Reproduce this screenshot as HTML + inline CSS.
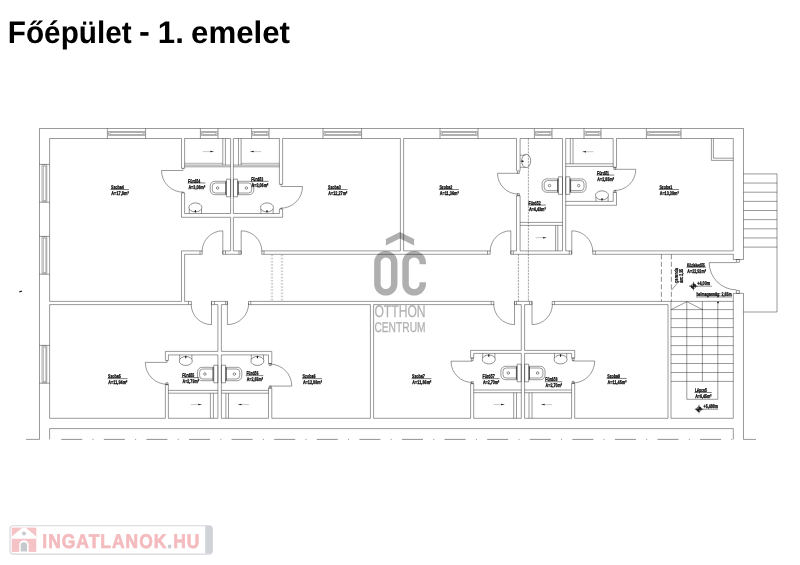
<!DOCTYPE html>
<html lang="hu">
<head>
<meta charset="utf-8">
<title>Főépület - 1. emelet</title>
<style>
html,body{margin:0;padding:0;background:#fff;}
body{width:800px;height:565px;overflow:hidden;}
svg{display:block;will-change:transform;opacity:.999;}
text{text-rendering:geometricPrecision;}
</style>
</head>
<body>
<svg width="800" height="565" viewBox="0 0 800 565">
<rect width="800" height="565" fill="#fff"/>
<g font-family="'Liberation Sans',sans-serif" font-weight="bold" font-size="31.2" fill="#000">
<text x="7.8" y="42.5" textLength="123.9" lengthAdjust="spacingAndGlyphs">Főépület</text>
<text x="138.9" y="41.6" textLength="10.8" lengthAdjust="spacingAndGlyphs">-</text>
<text x="157.8" y="42.5" textLength="26" lengthAdjust="spacingAndGlyphs">1.</text>
<text x="191" y="42.5" textLength="99" lengthAdjust="spacingAndGlyphs">emelet</text>
</g>
<path d="M39.5 128.5L743.5 128.5M39.5 128.5L39.5 439.4M26 439.4L39.5 439.4M743.5 128.5L743.5 259.5M733.3 259.5L743.5 259.5M743.5 293.4L743.5 439.4M733.3 293.4L743.5 293.4M743.5 439.4L756 439.4M736.4 259.5L739.4 259.5L739.4 262.3L736.4 262.3ZM736.4 290.5L739.4 290.5L739.4 293.4L736.4 293.4ZM49.6 138.5L181.5 138.5M184.6 138.5L230.6 138.5M233.4 138.5L279.4 138.5M282.6 138.5L400.4 138.5M403.6 138.5L516.5 138.5M520.1 138.5L562.5 138.5M565.7 138.5L613.2 138.5M616.5 138.5L733.3 138.5M49.6 138.5L49.6 301.4M49.6 304.6L49.6 418.3M733.3 138.5L733.3 250.9M733.3 254L733.3 259.5M733.3 293.4L733.3 418.3M49.6 418.3L165.4 418.3M168.4 418.3L217.9 418.3M221.4 418.3L268.5 418.3M271.8 418.3L370.4 418.3M373.6 418.3L470.6 418.3M473.7 418.3L521.3 418.3M524.6 418.3L571.6 418.3M574.7 418.3L668 418.3M671 418.3L733.3 418.3M49.6 439.4L49.6 428.6L733.3 428.6L733.3 439.4M107.4 128.5L107.4 138.5M145.6 128.5L145.6 138.5M200.4 128.5L200.4 138.5M218 128.5L218 138.5M251.6 128.5L251.6 138.5M269 128.5L269 138.5M323 128.5L323 138.5M361.6 128.5L361.6 138.5M440 128.5L440 138.5M478 128.5L478 138.5M534.4 128.5L534.4 138.5M552 128.5L552 138.5M584 128.5L584 138.5M601 128.5L601 138.5M646.4 128.5L646.4 138.5M681 128.5L681 138.5M39.5 164.4L49.6 164.4M39.5 202.2L49.6 202.2M39.5 236.4L49.6 236.4M39.5 274.2L49.6 274.2M39.5 345.4L49.6 345.4M39.5 383.2L49.6 383.2M181.5 138.5L181.5 168.3M184.6 138.5L184.6 168.3M181.5 168.3L184.6 168.3M182.2 168.9L184.2 168.9M181.5 192.9L181.5 217.3M184.6 192.9L184.6 213.5M181.5 192.9L184.6 192.9M182.2 192.3L184.2 192.3M184.6 213.5L230.6 213.5M233.4 213.5L279.4 213.5M181.5 217.3L230.6 217.3M233.4 217.3L282.6 217.3M230.6 138.5L230.6 213.5M233.4 138.5L233.4 213.5M230.6 217.3L230.6 250.9M233.4 217.3L233.4 250.9M279.4 138.5L279.4 184.3M282.6 138.5L282.6 184.3M279.4 184.3L282.6 184.3M279.9 184.9L282.2 184.9M279.4 209L279.4 213.5M282.6 209L282.6 217.3M279.4 209L282.6 209M279.9 208.4L282.2 208.4M184.6 165.1L230.6 165.1M184.6 166.8L230.6 166.8M222.8 138.5L222.8 165.1M225.4 138.5L225.4 165.1M233.4 165.1L279.4 165.1M233.4 166.8L279.4 166.8M238.5 138.5L238.5 165.1M241.1 138.5L241.1 165.1M230.6 179.2L226.5 179.2L226.5 196.8L230.6 196.8ZM226.5 181.3L214.8 181.3A4.6 4.6 0 0 0 210.2 185.9L210.2 190.1A4.6 4.6 0 0 0 214.8 194.7L226.5 194.7M226.5 183L215.5 183A3.2 3.2 0 0 0 212.3 186.2L212.3 189.8A3.2 3.2 0 0 0 215.5 193L226.5 193M233.4 179.2L237.5 179.2L237.5 196.8L233.4 196.8ZM237.5 181.3L249.2 181.3A4.6 4.6 0 0 1 253.8 185.9L253.8 190.1A4.6 4.6 0 0 1 249.2 194.7L237.5 194.7M237.5 183L248.5 183A3.2 3.2 0 0 1 251.7 186.2L251.7 189.8A3.2 3.2 0 0 1 248.5 193L237.5 193M189.3 209.05L189.3 213.5M201.5 209.05L201.5 213.5M260.9 209.05L260.9 213.5M273.1 209.05L273.1 213.5M181.5 250.9L200 250.9M184.6 254.3L200 254.3M200 250.9L202.2 250.9L202.2 254.3L200 254.3ZM181.5 250.9L181.5 301.4M184.6 254.3L184.6 301.4M222.8 250.9L225.5 250.9L225.5 254.3L222.8 254.3ZM225.5 250.9L230.3 250.9M233.5 250.9L239 250.9M225.5 254.3L239 254.3M239 250.9L241.2 250.9L241.2 254.3L239 254.3ZM261.8 250.9L264 250.9L264 254.3L261.8 254.3ZM264 250.9L400.4 250.9M403.6 250.9L487.5 250.9M264 254.3L487.5 254.3M400.4 138.5L400.4 250.9M403.6 138.5L403.6 250.9M487.5 250.9L490.2 250.9L490.2 254.3L487.5 254.3ZM510.8 250.9L513.3 250.9L513.3 254.3L510.8 254.3ZM513.3 250.9L516.5 250.9M520.1 250.9L562.5 250.9M565.7 250.9L569.3 250.9M513.3 254.3L569.3 254.3M569.3 250.9L571.6 250.9L571.6 254.3L569.3 254.3ZM592.8 250.9L595.4 250.9L595.4 254.3L592.8 254.3ZM595.4 250.9L733.3 250.9M595.4 254.3L733.3 254.3M516.5 138.5L516.5 170.8M520.1 138.5L520.1 170.8M517.4 170.8L519.4 170.8L519.4 173.3L517.4 173.3ZM516.5 195.7L516.5 250.9M520.1 195.7L520.1 250.9M516.5 195.7L520.1 195.7M517.4 193.6L519.4 193.6L519.4 195.7L517.4 195.7ZM562.5 138.5L562.5 250.9M565.7 138.5L565.7 250.9M613.2 138.5L613.2 167.3M616.5 138.5L616.5 167.3M613.2 167.3L616.5 167.3M613.9 167.3L615.8 167.3L615.8 169.3L613.9 169.3ZM613.2 192.3L613.2 201.4M616.5 192.3L616.5 205.3M613.2 192.3L616.5 192.3M613.9 190.4L615.8 190.4L615.8 192.3L613.9 192.3ZM565.7 201.4L613.2 201.4M565.7 205.3L616.5 205.3M565.7 163.8L613.2 163.8M565.7 166.4L613.2 166.4M570.3 138.5L570.3 163.8M573 138.5L573 163.8M520.1 222.4L562.5 222.4M520.1 225.4L562.5 225.4M555.6 225.4L555.6 250.9M557.8 225.4L557.8 250.9M562.5 176.8L558.4 176.8L558.4 194.4L562.5 194.4ZM558.4 178.9L546.7 178.9A4.6 4.6 0 0 0 542.1 183.5L542.1 187.7A4.6 4.6 0 0 0 546.7 192.3L558.4 192.3M558.4 180.6L547.4 180.6A3.2 3.2 0 0 0 544.2 183.8L544.2 187.4A3.2 3.2 0 0 0 547.4 190.6L558.4 190.6M565.7 176.8L569.8 176.8L569.8 194.4L565.7 194.4ZM569.8 178.9L581.5 178.9A4.6 4.6 0 0 1 586.1 183.5L586.1 187.7A4.6 4.6 0 0 1 581.5 192.3L569.8 192.3M569.8 180.6L580.8 180.6A3.2 3.2 0 0 1 584 183.8L584 187.4A3.2 3.2 0 0 1 580.8 190.6L569.8 190.6M595.9 196.95L595.9 201.4M608.1 196.95L608.1 201.4M525.4 155.2L520.1 155.2M525.4 167.3L520.1 167.3M520.4 161.2L523.6 161.2M711.4 138.5L711.4 160.4L733.3 160.4M713.4 138.5L713.4 158.2L733.3 158.2M49.6 301.4L181.5 301.4M184.6 301.4L188.5 301.4M49.6 304.6L188.5 304.6M188.5 301.4L191.4 301.4L191.4 304.6L188.5 304.6ZM211.5 301.4L214.5 301.4L214.5 304.6L211.5 304.6ZM214.5 301.4L225.5 301.4M214.5 304.6L217.9 304.6M221.4 304.6L225.5 304.6M217.9 304.6L217.9 351.4M221.4 304.6L221.4 351.4M217.9 354.9L217.9 418.3M221.4 354.9L221.4 418.3M225.5 301.4L227.4 301.4L227.4 304.6L225.5 304.6ZM248.5 301.4L250.8 301.4L250.8 304.6L248.5 304.6ZM250.8 301.4L491.2 301.4M250.8 304.6L370.4 304.6M373.6 304.6L491.2 304.6M370.4 304.6L370.4 418.3M373.6 304.6L373.6 418.3M491.2 301.4L493.8 301.4L493.8 304.6L491.2 304.6ZM514.5 301.4L516.5 301.4L516.5 304.6L514.5 304.6ZM516.5 301.4L529.5 301.4M516.5 304.6L521.3 304.6M524.6 304.6L529.5 304.6M521.3 304.6L521.3 350.4M524.6 304.6L524.6 350.4M521.3 353.4L521.3 418.3M524.6 353.4L524.6 418.3M529.5 301.4L532 301.4L532 304.6L529.5 304.6ZM552.2 301.4L554.5 301.4L554.5 304.6L552.2 304.6ZM554.5 301.4L671 301.4L671 418.3M554.5 304.6L668 304.6L668 418.3M165.4 351.4L217.9 351.4M221.4 351.4L271.8 351.4M168.4 354.9L217.9 354.9M221.4 354.9L268.5 354.9M165.4 351.4L165.4 360.4M168.4 354.9L168.4 360.4M165.4 360.5L168.4 360.5M166 361.1L168 361.1M165.4 384.4L165.4 418.3M168.4 384.4L168.4 418.3M165.4 384.6L168.4 384.6M166 382.8L168 382.8L168 384.6L166 384.6ZM271.8 351.4L271.8 363.5M268.5 354.9L268.5 363.5M268.5 363.5L271.8 363.5M269.1 363.5L271.2 363.5L271.2 365.6L269.1 365.6ZM271.8 388.1L271.8 418.3M268.5 388.1L268.5 418.3M268.5 388.1L271.8 388.1M269.1 386.1L271.2 386.1L271.2 388.1L269.1 388.1ZM168.4 390.4L217.9 390.4M168.4 393.2L217.9 393.2M210.4 393.2L210.4 418.3M213.4 393.2L213.4 418.3M221.4 390.4L268.5 390.4M221.4 393.2L268.5 393.2M225.9 393.2L225.9 418.3M228.5 393.2L228.5 418.3M217.9 365.2L213.8 365.2L213.8 382.8L217.9 382.8ZM213.8 367.3L202.1 367.3A4.6 4.6 0 0 0 197.5 371.9L197.5 376.1A4.6 4.6 0 0 0 202.1 380.7L213.8 380.7M213.8 369L202.8 369A3.2 3.2 0 0 0 199.6 372.2L199.6 375.8A3.2 3.2 0 0 0 202.8 379L213.8 379M221.4 365.2L225.5 365.2L225.5 382.8L221.4 382.8ZM225.5 367.3L237.2 367.3A4.6 4.6 0 0 1 241.8 371.9L241.8 376.1A4.6 4.6 0 0 1 237.2 380.7L225.5 380.7M225.5 369L236.5 369A3.2 3.2 0 0 1 239.7 372.2L239.7 375.8A3.2 3.2 0 0 1 236.5 379L225.5 379M179.7 359.35L179.7 354.9M191.9 359.35L191.9 354.9M251.3 359.35L251.3 354.9M263.5 359.35L263.5 354.9M470.6 350.4L521.3 350.4M524.6 350.4L574.7 350.4M473.7 353.4L521.3 353.4M524.6 353.4L571.6 353.4M470.6 350.4L470.6 358.1M473.7 353.4L473.7 358.1M470.6 358.1L473.7 358.1M471.3 358.1L473.2 358.1L473.2 360.5L471.3 360.5ZM470.6 383.6L470.6 418.3M473.7 383.6L473.7 418.3M470.6 383.6L473.7 383.6M471.3 381.6L473.2 381.6L473.2 383.6L471.3 383.6ZM574.7 350.4L574.7 358.1M571.6 353.4L571.6 358.1M571.6 358.1L574.7 358.1M572.2 358.1L574.1 358.1L574.1 360.5L572.2 360.5ZM574.7 383.3L574.7 418.3M571.6 383.3L571.6 418.3M571.6 383.3L574.7 383.3M572.2 381.3L574.1 381.3L574.1 383.3L572.2 383.3ZM473.7 390L521.3 390M473.7 392.7L521.3 392.7M513.7 392.7L513.7 418.3M516.5 392.7L516.5 418.3M524.6 390L571.6 390M524.6 392.7L571.6 392.7M529 392.7L529 418.3M532 392.7L532 418.3M521.3 364.2L517.2 364.2L517.2 381.8L521.3 381.8ZM517.2 366.3L505.5 366.3A4.6 4.6 0 0 0 500.9 370.9L500.9 375.1A4.6 4.6 0 0 0 505.5 379.7L517.2 379.7M517.2 368L506.2 368A3.2 3.2 0 0 0 503 371.2L503 374.8A3.2 3.2 0 0 0 506.2 378L517.2 378M524.6 364.2L528.7 364.2L528.7 381.8L524.6 381.8ZM528.7 366.3L540.4 366.3A4.6 4.6 0 0 1 545 370.9L545 375.1A4.6 4.6 0 0 1 540.4 379.7L528.7 379.7M528.7 368L539.7 368A3.2 3.2 0 0 1 542.9 371.2L542.9 374.8A3.2 3.2 0 0 1 539.7 378L528.7 378M482.7 357.85L482.7 353.4M494.9 357.85L494.9 353.4M554.5 357.85L554.5 353.4M566.7 357.85L566.7 353.4M671 309.6L733.3 309.6M671 318.6L733.3 318.6M671 327.6L733.3 327.6M671 336.6L733.3 336.6M671 345.6L733.3 345.6M671 354.6L733.3 354.6M671 363.5L733.3 363.5M671 372.5L733.3 372.5M671 381.4L733.3 381.4M686.8 301.4L686.8 399.3M717.8 301.4L717.8 399.3M702.4 301.4L702.4 381.4M686.8 399.3L717.8 399.3M671 301.4L733.3 301.4M671 309.6L687 301.7L702.6 309.6M743.5 173.9L777 173.9M743.5 183.05L777 183.05M743.5 192.2L777 192.2M743.5 201.35L777 201.35M743.5 210.5L777 210.5M743.5 219.65L777 219.65M743.5 228.8L777 228.8M743.5 237.95L777 237.95M743.5 247.1L777 247.1M777 173.9L777 312M743.5 312L777 312M671.5 290.2L677.4 283" fill="none" stroke="#222" stroke-width=".46"/>
<path d="M161.5 170.5A21.7 21.7 0 0 0 183.2 192.2M183.2 170.5L161.5 170.5M302.5 186.5A21.7 21.7 0 0 1 280.8 208.2M280.8 186.5L302.5 186.5M222.8 254.3L222.8 230.8M202.1 251.5A20.7 20.7 0 0 1 222.8 230.8M241.2 254.3L241.2 230.8M241.2 230.8A20.7 20.7 0 0 1 261.9 251.5M510.8 254.3L510.8 230.8M490.2 251.4A20.6 20.6 0 0 1 510.8 230.8M571.8 254.3L571.8 230.8M571.8 230.8A21 21 0 0 1 592.8 251.8M497.5 173.3A20.8 20.8 0 0 0 518.3 194.1M518.3 173.3L497.5 173.3M635.8 169.3A21.2 21.2 0 0 1 614.6 190.5M614.6 169.3L635.8 169.3M211.5 301.4L211.5 324.6M191.2 304.3A20.3 20.3 0 0 0 211.5 324.6M227.4 301.4L227.4 324.6M248.7 303.3A21.3 21.3 0 0 1 227.4 324.6M514.5 301.4L514.5 324.6M493.7 303.8A20.8 20.8 0 0 0 514.5 324.6M532 301.4L532 324.6M552.4 304.2A20.4 20.4 0 0 1 532 324.6M145.3 362.4A21.9 21.9 0 0 0 167.2 384.3M167.2 362.4L145.3 362.4M291.8 386.1A22 22 0 0 0 269.8 364.1M269.8 386.1L291.8 386.1M451 361.2A21.3 21.3 0 0 0 472.3 382.5M472.3 361.2L451 361.2M594.7 361A22 22 0 0 1 572.7 383M572.7 361L594.7 361M709.2 262.6A27.2 27.2 0 0 0 736.4 289.8M736.4 262.6L709.2 262.6" fill="none" stroke="#222" stroke-width=".46"/>
<path d="M108.4 131.5L144.8 131.5L144.8 135.4L108.4 135.4ZM109.8 132.5L143.4 132.5L143.4 134.6L109.8 134.6ZM201.4 131.5L217.2 131.5L217.2 135.4L201.4 135.4ZM202.8 132.5L215.8 132.5L215.8 134.6L202.8 134.6ZM252.6 131.5L268.2 131.5L268.2 135.4L252.6 135.4ZM254 132.5L266.8 132.5L266.8 134.6L254 134.6ZM324 131.5L360.8 131.5L360.8 135.4L324 135.4ZM325.4 132.5L359.4 132.5L359.4 134.6L325.4 134.6ZM441 131.5L477.2 131.5L477.2 135.4L441 135.4ZM442.4 132.5L475.8 132.5L475.8 134.6L442.4 134.6ZM535.4 131.5L551.2 131.5L551.2 135.4L535.4 135.4ZM536.8 132.5L549.8 132.5L549.8 134.6L536.8 134.6ZM585 131.5L600.2 131.5L600.2 135.4L585 135.4ZM586.4 132.5L598.8 132.5L598.8 134.6L586.4 134.6ZM647.4 131.5L680.2 131.5L680.2 135.4L647.4 135.4ZM648.8 132.5L678.8 132.5L678.8 134.6L648.8 134.6ZM42 164.8L46.8 164.8L46.8 201.8L42 201.8ZM43.3 166.1L45.9 166.1L45.9 200.5L43.3 200.5ZM42 236.8L46.8 236.8L46.8 273.8L42 273.8ZM43.3 238.1L45.9 238.1L45.9 272.5L43.3 272.5ZM42 345.8L46.8 345.8L46.8 382.8L42 382.8ZM43.3 347.1L45.9 347.1L45.9 381.5L43.3 381.5ZM184.6 163.3L222.8 163.3M241.1 163.3L279.4 163.3" fill="none" stroke="#333" stroke-width=".4"/>
<path d="M202.9 151.6L213.7 151.6M250.3 151.6L261.1 151.6M582.6 151.7L593.4 151.7M535.6 237.7L546.4 237.7M190.9 404.6L201.7 404.6M238.1 404.6L248.9 404.6M493.6 404.6L504.4 404.6M541.3 404.6L552.1 404.6" fill="none" stroke="#777" stroke-width=".4"/>
<path d="M528.4 138.5L528.4 301.4M518.4 254.3L518.4 301.4" fill="none" stroke="#333" stroke-width=".45" stroke-dasharray="2.2 1"/>
<path d="M271.3 254.7L271.3 301.4M272.6 254.7L272.6 301.4M281.3 254.7L281.3 301.4M282.6 254.7L282.6 301.4" fill="none" stroke="#888" stroke-width=".45" stroke-dasharray="1.6 1.55"/>
<path d="M661.4 254.3L661.4 301.4M671.4 254.3L671.4 301.4" fill="none" stroke="#222" stroke-width=".5" stroke-dasharray="5 2.5"/>
<path d="M61.25 439.4L721.2 439.4" fill="none" stroke="#222" stroke-width=".5" stroke-dasharray="21 10.3 1 10.29"/>
<path d="M731.3 439.4h1" fill="none" stroke="#222" stroke-width=".5"/>
<path d="M213.9 151.6l-3.6 -0.75v1.5z" fill="#222"/>
<path d="M250.1 151.6l3.6 -0.75v1.5z" fill="#222"/>
<rect x="225.2" y="181.3" width="1.3" height="13.4" fill="#555"/>
<circle cx="217.6" cy="188" r="1.25" fill="none" stroke="#222" stroke-width=".5"/>
<rect x="237.5" y="181.3" width="1.3" height="13.4" fill="#555"/>
<circle cx="246.4" cy="188" r="1.25" fill="none" stroke="#222" stroke-width=".5"/>
<ellipse cx="195.4" cy="207.45" rx="6.5" ry="4.5" fill="none" stroke="#222" stroke-width=".5"/>
<ellipse cx="195.4" cy="211.3" rx=".65" ry="1.3" fill="#111"/>
<ellipse cx="267" cy="207.45" rx="6.5" ry="4.5" fill="none" stroke="#222" stroke-width=".5"/>
<ellipse cx="267" cy="211.3" rx=".65" ry="1.3" fill="#111"/>
<path d="M582.4 151.7l3.6 -0.75v1.5z" fill="#222"/>
<path d="M546.6 237.7l-3.6 -0.75v1.5z" fill="#222"/>
<rect x="557.1" y="178.9" width="1.3" height="13.4" fill="#555"/>
<circle cx="549.5" cy="185.6" r="1.25" fill="none" stroke="#222" stroke-width=".5"/>
<rect x="569.8" y="178.9" width="1.3" height="13.4" fill="#555"/>
<circle cx="578.7" cy="185.6" r="1.25" fill="none" stroke="#222" stroke-width=".5"/>
<ellipse cx="602" cy="195.35" rx="6.5" ry="4.5" fill="none" stroke="#222" stroke-width=".5"/>
<ellipse cx="602" cy="199.2" rx=".65" ry="1.3" fill="#111"/>
<ellipse cx="526.2" cy="160.9" rx="4.5" ry="6.7" fill="none" stroke="#222" stroke-width=".5"/>
<path d="M524.2 161.2l-2.4 -1v2z" fill="#111"/>
<path d="M201.9 404.6l-3.6 -0.75v1.5z" fill="#222"/>
<path d="M237.9 404.6l3.6 -0.75v1.5z" fill="#222"/>
<rect x="212.5" y="367.3" width="1.3" height="13.4" fill="#555"/>
<circle cx="204.9" cy="374" r="1.25" fill="none" stroke="#222" stroke-width=".5"/>
<rect x="225.5" y="367.3" width="1.3" height="13.4" fill="#555"/>
<circle cx="234.4" cy="374" r="1.25" fill="none" stroke="#222" stroke-width=".5"/>
<ellipse cx="185.8" cy="360.95" rx="6.5" ry="4.5" fill="none" stroke="#222" stroke-width=".5"/>
<ellipse cx="185.8" cy="357.1" rx=".65" ry="1.3" fill="#111"/>
<ellipse cx="257.4" cy="360.95" rx="6.5" ry="4.5" fill="none" stroke="#222" stroke-width=".5"/>
<ellipse cx="257.4" cy="357.1" rx=".65" ry="1.3" fill="#111"/>
<path d="M504.6 404.6l-3.6 -0.75v1.5z" fill="#222"/>
<path d="M541.1 404.6l3.6 -0.75v1.5z" fill="#222"/>
<rect x="515.9" y="366.3" width="1.3" height="13.4" fill="#555"/>
<circle cx="508.3" cy="373" r="1.25" fill="none" stroke="#222" stroke-width=".5"/>
<rect x="528.7" y="366.3" width="1.3" height="13.4" fill="#555"/>
<circle cx="537.6" cy="373" r="1.25" fill="none" stroke="#222" stroke-width=".5"/>
<ellipse cx="488.8" cy="359.45" rx="6.5" ry="4.5" fill="none" stroke="#222" stroke-width=".5"/>
<ellipse cx="488.8" cy="355.6" rx=".65" ry="1.3" fill="#111"/>
<ellipse cx="560.6" cy="359.45" rx="6.5" ry="4.5" fill="none" stroke="#222" stroke-width=".5"/>
<ellipse cx="560.6" cy="355.6" rx=".65" ry="1.3" fill="#111"/>
<circle cx="718" cy="302.4" r=".9" fill="#222"/>
<g font-family="'Liberation Sans',sans-serif" font-size="5.4" font-weight="bold" fill="#000" stroke="#000" stroke-width=".28">
<text x="111" y="189.2" textLength="12.9" lengthAdjust="spacingAndGlyphs">Szoba4</text>
<text x="111.3" y="195.1" textLength="17.4" lengthAdjust="spacingAndGlyphs">A=17,8m²</text>
<path d="M110.5 189.55h18.4" stroke="#111" stroke-width=".55"/>
<text x="328" y="189.2" textLength="12.9" lengthAdjust="spacingAndGlyphs">Szoba3</text>
<text x="328.3" y="195.1" textLength="19" lengthAdjust="spacingAndGlyphs">A=12,27m²</text>
<path d="M327.5 189.55h20" stroke="#111" stroke-width=".55"/>
<text x="439.4" y="189.2" textLength="12.9" lengthAdjust="spacingAndGlyphs">Szoba2</text>
<text x="439.7" y="195.1" textLength="19" lengthAdjust="spacingAndGlyphs">A=11,36m²</text>
<path d="M438.9 189.55h20" stroke="#111" stroke-width=".55"/>
<text x="659.4" y="189.2" textLength="12.9" lengthAdjust="spacingAndGlyphs">Szoba1</text>
<text x="659.7" y="195.1" textLength="19" lengthAdjust="spacingAndGlyphs">A=13,39m²</text>
<path d="M658.9 189.55h20" stroke="#111" stroke-width=".55"/>
<text x="108" y="378.3" textLength="12.9" lengthAdjust="spacingAndGlyphs">Szoba5</text>
<text x="108.3" y="384.2" textLength="19" lengthAdjust="spacingAndGlyphs">A=11,94m²</text>
<path d="M107.5 378.65h20" stroke="#111" stroke-width=".55"/>
<text x="302.6" y="378.3" textLength="12.9" lengthAdjust="spacingAndGlyphs">Szoba6</text>
<text x="302.9" y="384.2" textLength="19" lengthAdjust="spacingAndGlyphs">A=12,08m²</text>
<path d="M302.1 378.65h20" stroke="#111" stroke-width=".55"/>
<text x="412" y="378.3" textLength="12.9" lengthAdjust="spacingAndGlyphs">Szoba7</text>
<text x="412.3" y="384.2" textLength="19" lengthAdjust="spacingAndGlyphs">A=11,86m²</text>
<path d="M411.5 378.65h20" stroke="#111" stroke-width=".55"/>
<text x="607.2" y="378.1" textLength="12.9" lengthAdjust="spacingAndGlyphs">Szoba8</text>
<text x="607.5" y="384" textLength="19" lengthAdjust="spacingAndGlyphs">A=11,45m²</text>
<path d="M606.7 378.45h20" stroke="#111" stroke-width=".55"/>
<text x="188.1" y="182.6" textLength="12.1" lengthAdjust="spacingAndGlyphs">Fürdő4</text>
<text x="188.4" y="188.5" textLength="16.8" lengthAdjust="spacingAndGlyphs">A=3,06m²</text>
<path d="M187.6 182.95h17.8" stroke="#111" stroke-width=".55"/>
<text x="251.2" y="181" textLength="12.1" lengthAdjust="spacingAndGlyphs">Fürdő3</text>
<text x="251.5" y="186.9" textLength="16.8" lengthAdjust="spacingAndGlyphs">A=3,06m²</text>
<path d="M250.7 181.35h17.8" stroke="#111" stroke-width=".55"/>
<text x="528.6" y="204.7" textLength="12.1" lengthAdjust="spacingAndGlyphs">Fürdő2</text>
<text x="528.9" y="210.6" textLength="16.8" lengthAdjust="spacingAndGlyphs">A=4,43m²</text>
<path d="M528.1 205.05h17.8" stroke="#111" stroke-width=".55"/>
<text x="597" y="174.7" textLength="12.1" lengthAdjust="spacingAndGlyphs">Fürdő1</text>
<text x="597.3" y="180.6" textLength="16.8" lengthAdjust="spacingAndGlyphs">A=2,85m²</text>
<path d="M596.5 175.05h17.8" stroke="#111" stroke-width=".55"/>
<text x="182.2" y="377.3" textLength="12.1" lengthAdjust="spacingAndGlyphs">Fürdő5</text>
<text x="182.5" y="383.2" textLength="16.4" lengthAdjust="spacingAndGlyphs">A=2,79m²</text>
<path d="M181.7 377.65h17.4" stroke="#111" stroke-width=".55"/>
<text x="246.4" y="375.3" textLength="12.1" lengthAdjust="spacingAndGlyphs">Fürdő6</text>
<text x="246.7" y="381.2" textLength="16.4" lengthAdjust="spacingAndGlyphs">A=2,65m²</text>
<path d="M245.9 375.65h17.4" stroke="#111" stroke-width=".55"/>
<text x="482.6" y="378.3" textLength="12.1" lengthAdjust="spacingAndGlyphs">Fürdő7</text>
<text x="482.9" y="384.2" textLength="16.4" lengthAdjust="spacingAndGlyphs">A=2,70m²</text>
<path d="M482.1 378.65h17.4" stroke="#111" stroke-width=".55"/>
<text x="545.3" y="381.4" textLength="12.1" lengthAdjust="spacingAndGlyphs">Fürdő8</text>
<text x="545.6" y="387.3" textLength="16.4" lengthAdjust="spacingAndGlyphs">A=2,70m²</text>
<path d="M544.8 381.75h17.4" stroke="#111" stroke-width=".55"/>
<text x="687" y="266.8" textLength="17.8" lengthAdjust="spacingAndGlyphs">Közlekedő5</text>
<text x="687.3" y="272.7" textLength="18.6" lengthAdjust="spacingAndGlyphs">A=22,92m²</text>
<path d="M686.5 267.15h19.6" stroke="#111" stroke-width=".55"/>
<text x="694.9" y="392.1" textLength="12" lengthAdjust="spacingAndGlyphs">Lépcső</text>
<text x="695.2" y="398" textLength="16.4" lengthAdjust="spacingAndGlyphs">A=6,45m²</text>
<path d="M694.4 392.45h17.4" stroke="#111" stroke-width=".55"/>
<text x="697.3" y="284.6" textLength="12.8" lengthAdjust="spacingAndGlyphs">+4,00m</text>
<path d="M689.6 286.2h22.3" stroke="#222" stroke-width=".5"/>
<text x="696.4" y="296.2" textLength="35.2" lengthAdjust="spacingAndGlyphs">belmagasság: 2,65m</text>
<path d="M696 297h36" stroke="#222" stroke-width=".5"/>
<text x="703.6" y="408.2" textLength="14.4" lengthAdjust="spacingAndGlyphs">+5,488m</text>
<path d="M695.4 409.2h22.8" stroke="#222" stroke-width=".5"/>
<text transform="translate(677.5 282.7) rotate(-90)" textLength="14.5" lengthAdjust="spacingAndGlyphs">gerenda</text>
<text transform="translate(682.8 282.7) rotate(-90)" textLength="13.7" lengthAdjust="spacingAndGlyphs">am: 2,35</text>
</g>
<g stroke="#111" stroke-width=".6" fill="none"><circle cx="693.5" cy="286.2" r="2.3"/><path d="M693.5 281.8v8.6 M689.3 286.2h8.4"/><path d="M693.5 283.9A2.3 2.3 0 0 1 695.8 286.2L693.5 286.2Z" fill="#222"/><path d="M693.5 288.5A2.3 2.3 0 0 1 691.2 286.2L693.5 286.2Z" fill="#222"/></g>
<g stroke="#111" stroke-width=".6" fill="none"><circle cx="699" cy="409.2" r="2.3"/><path d="M699 404.8v8.6 M694.8 409.2h8.4"/><path d="M699 406.9A2.3 2.3 0 0 1 701.3 409.2L699 409.2Z" fill="#222"/><path d="M699 411.5A2.3 2.3 0 0 1 696.7 409.2L699 409.2Z" fill="#222"/></g>
<path d="M19.3 291.9l2.6 -.8" stroke="#222" stroke-width="1.1"/>
<g opacity=".31">
<path d="M385.9 239.1L399.9 231.9L414.1 239.1V245.4L399.9 238.4L385.9 245.4Z" fill="#000"/>
<g fill="none" stroke="#000" stroke-width="6.5" stroke-linecap="butt">
<path d="M377.4 262.55a8.4 8.4 0 0 1 16.8 0v21.4a8.4 8.4 0 0 1 -16.8 0z"/>
<path d="M422.75 264.2v-1.45a8.6 8.6 0 0 0 -17.2 0v21a8.6 8.6 0 0 0 17.2 0v-1.45"/>
</g>
<g font-family="'Liberation Sans',sans-serif" fill="#000" stroke="#000" stroke-width=".35" font-size="16.9">
<text x="374.4" y="316.5" textLength="51.2" lengthAdjust="spacingAndGlyphs">OTTHON</text>
<text x="374.4" y="332.4" textLength="51.2" lengthAdjust="spacingAndGlyphs" font-size="14.1">CENTRUM</text>
</g>
</g>
<g>
<rect x="10" y="525.8" width="202.3" height="28.3" rx="3" fill="#fff" stroke="#d3d6da" stroke-width="1.1"/>
<path d="M205.2 526.1h4.6a2.5 2.5 0 0 1 2.5 2.5v22.4a2.5 2.5 0 0 1 -2.5 2.5h-4.6z" fill="#d0d3d7"/>
<rect x="11.7" y="527.6" width="24.6" height="24.3" fill="#f5c2c5"/>
<path d="M11.7 536.6L22.6 527.6H25.5L36.3 536.6V538.8H11.7Z" fill="#fff"/>
<circle cx="24" cy="533.5" r="2" fill="#c6c9cd"/>
<path d="M19.2 551.9V545a4.75 4.8 0 0 1 9.5 0V551.9Z" fill="#fff"/>
<path d="M20.7 551.5V545.5a3.2 3.2 0 0 1 6.4 0V551.5Z" fill="#c6c9cd"/>
<text transform="translate(42.3 547.7) scale(.882 1)" font-family="'Liberation Sans',sans-serif" font-weight="bold" font-size="19.8" letter-spacing="1.14" fill="#f4bbbe" stroke="#f4bbbe" stroke-width=".7">INGATLANOK<tspan fill="#c6c9cd" stroke="#c6c9cd">.</tspan>HU</text>
</g>
</svg>
</body>
</html>
